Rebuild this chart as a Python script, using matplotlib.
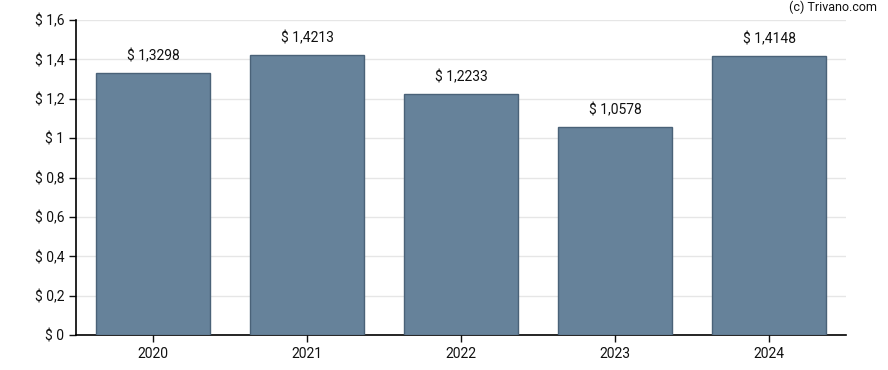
import matplotlib.pyplot as plt
import numpy as np

# Data
years = ['2020', '2021', '2022', '2023', '2024']
values = [1.3298, 1.4213, 1.2233, 1.0578, 1.4148]
y_ticks = [0, 0.2, 0.4, 0.6, 0.8, 1.0, 1.2, 1.4, 1.6]

plt.rcParams['font.family'] = ['Roboto', 'DejaVu Sans']


def fmt(v):
    # Dutch-style formatting with comma decimals
    s = ('%.4f' % v).rstrip('0').rstrip('.')
    return '$ ' + s.replace('.', ',')


fig = plt.figure(figsize=(8.88, 3.7), dpi=100)
ax = fig.add_axes([76 / 888, 35 / 370, 770 / 888, 315 / 370])

x = np.arange(len(years))
ax.bar(x, values, width=0.74, color='#66829a', edgecolor='#4a6278', linewidth=1, zorder=3)

# Value labels above the bars
for xi, v in zip(x, values):
    ax.text(xi, v + 0.05, '$ ' + ('%.4f' % v).replace('.', ','),
            ha='center', va='bottom', fontsize=10, color='#111111')

ax.set_xlim(-0.5, len(years) - 0.5)
ax.set_ylim(0, 1.6)
ax.set_xticks(x)
ax.set_xticklabels(years)
ax.set_yticks(y_ticks)
ax.set_yticklabels([fmt(t) for t in y_ticks])
ax.tick_params(axis='both', labelsize=10, colors='#111111', length=5, width=1)
ax.yaxis.grid(True, color='#e6e6e6', linewidth=1, zorder=0)

ax.spines['top'].set_visible(False)
ax.spines['right'].set_visible(False)
ax.spines['left'].set_linewidth(1.2)
ax.spines['bottom'].set_linewidth(1.2)

fig.text(877 / 888, 1 - 7 / 370, '(c) Trivano.com', ha='right', va='center', fontsize=9, color='#111111')

fig.savefig('out.png', dpi=100)
